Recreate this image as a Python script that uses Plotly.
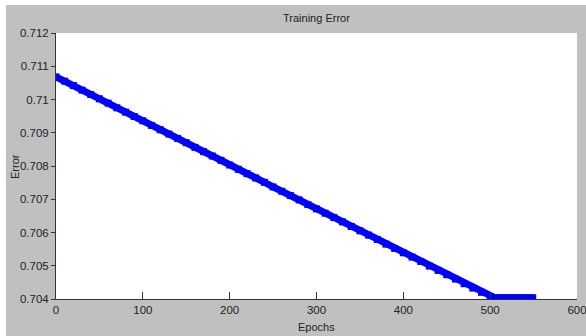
import plotly.graph_objects as go

epochs = [0, 10, 20, 30, 40, 50, 60, 70, 80, 90, 100, 110, 120, 130, 140, 150, 160, 170, 180, 190,
          200, 210, 220, 230, 240, 250, 260, 270, 280, 290, 300, 310, 320, 330, 340, 350, 360, 370,
          380, 390, 400, 410, 420, 430, 440, 450, 460, 470, 480, 490, 500, 505, 514, 523, 532, 541, 549]
error = [0.71068, 0.71055, 0.71042, 0.71028, 0.71015, 0.71002, 0.70989, 0.70975, 0.70962, 0.70949,
         0.70936, 0.70922, 0.70909, 0.70896, 0.70883, 0.70870, 0.70856, 0.70843, 0.70830, 0.70817,
         0.70803, 0.70790, 0.70777, 0.70764, 0.70751, 0.70737, 0.70724, 0.70711, 0.70698, 0.70684,
         0.70671, 0.70658, 0.70645, 0.70632, 0.70618, 0.70605, 0.70592, 0.70579, 0.70565, 0.70552,
         0.70539, 0.70526, 0.70513, 0.70499, 0.70486, 0.70473, 0.70460, 0.70446, 0.70433, 0.70420,
         0.70407, 0.70404, 0.70404, 0.70404, 0.70404, 0.70404, 0.70404]

x_ticks = [0, 100, 200, 300, 400, 500, 600]
y_ticks = [0.704, 0.705, 0.706, 0.707, 0.708, 0.709, 0.71, 0.711, 0.712]
y_labels = ["0.704", "0.705", "0.706", "0.707", "0.708", "0.709", "0.71", "0.711", "0.712"]

FONT = "Liberation Sans, Arial, sans-serif"
GRAY = "#c0c0c0"

fig = go.Figure()
fig.add_trace(go.Scatter(
    x=epochs, y=error, mode="lines+markers",
    line=dict(color="#0000ff", width=7),
    marker=dict(symbol="square", size=7, color="#0000ff"),
    showlegend=False,
))

fig.update_layout(
    width=586, height=336,
    margin=dict(l=56, r=9, t=33, b=37),
    paper_bgcolor=GRAY, plot_bgcolor="white",
    font=dict(family=FONT, size=11.5, color="#222222"),
    xaxis=dict(range=[0, 600], tickvals=x_ticks, ticks="inside", ticklen=7, tickcolor="#333333",
               showline=True, linecolor="#333333", linewidth=1, showgrid=False, zeroline=False,
               tickfont=dict(size=11.5), automargin=False, ticklabeloverflow="allow"),
    yaxis=dict(range=[0.704, 0.712], tickvals=y_ticks, ticktext=y_labels, ticks="outside", ticklen=4,
               tickcolor="#333333", showline=True, linecolor="#333333", linewidth=1,
               showgrid=False, zeroline=False, tickfont=dict(size=11.5), automargin=False),
    shapes=[
        dict(type="rect", xref="paper", yref="paper", x0=-0.2, x1=1.1, y0=1.105, y1=1.3,
             fillcolor="white", line=dict(width=0), layer="above"),
        dict(type="rect", xref="paper", yref="paper", x0=-0.2, x1=-0.096, y0=-0.3, y1=1.3,
             fillcolor="white", line=dict(width=0), layer="above"),
    ],
    annotations=[
        dict(text="Training Error", xref="paper", yref="paper", x=0.5, y=1.056,
             xanchor="center", yanchor="middle", showarrow=False, font=dict(size=11)),
        dict(text="Epochs", xref="paper", yref="paper", x=0.5, y=-0.105,
             xanchor="center", yanchor="middle", showarrow=False, font=dict(size=11)),
        dict(text="Error", xref="paper", yref="paper", x=-0.0787, y=0.5, textangle=-90,
             xanchor="center", yanchor="middle", showarrow=False, font=dict(size=11)),
    ],
)

fig.write_html("out.html", config={"displayModeBar": False},
               post_script="document.body.style.margin='0';document.body.style.overflow='hidden';")
